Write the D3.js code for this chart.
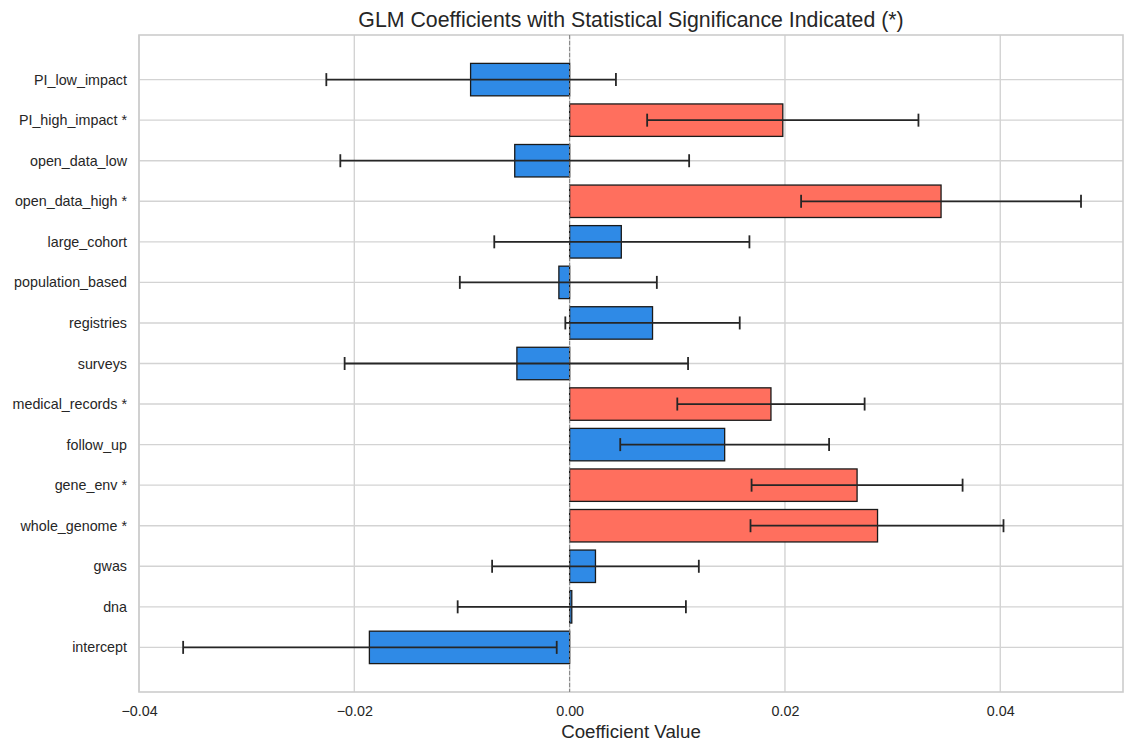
<!DOCTYPE html>
<html>
<head>
  <meta charset="utf-8">
  <script src="https://d3js.org/d3.v7.min.js"></script>
  <style>
    body { margin: 0; background: #fff; }
    text { font-family: "Liberation Sans", Arial, sans-serif; }
  </style>
</head>
<body>
  <div id="my_dataviz"></div>
  <script>
    // terms, top to bottom
    const terms = ["PI_low_impact", "PI_high_impact", "open_data_low", "open_data_high", "large_cohort",
      "population_based", "registries", "surveys", "medical_records", "follow_up", "gene_env",
      "whole_genome", "gwas", "dna", "intercept"];
    const coefs = [-0.0092, 0.0198, -0.0051, 0.0345, 0.0048, -0.0010, 0.0077, -0.0049, 0.0187,
      0.0144, 0.0267, 0.0286, 0.0024, 0.0002, -0.0186];
    const lower = [-0.0226, 0.0072, -0.0213, 0.0215, -0.0070, -0.0102, -0.0004, -0.0209, 0.0100,
      0.0047, 0.0169, 0.0168, -0.0072, -0.0104, -0.0359];
    const upper = [0.0043, 0.0324, 0.0111, 0.0475, 0.0167, 0.0081, 0.0158, 0.0110, 0.0274,
      0.0241, 0.0365, 0.0403, 0.0120, 0.0108, -0.0012];
    const significant = [false, true, false, true, false, false, false, false, true,
      false, true, true, false, false, false];
    const xTicks = [-0.04, -0.02, 0.00, 0.02, 0.04];

    const W = 1124, H = 744;
    const margin = { top: 35, right: 1, bottom: 52, left: 139 };
    const width = W - margin.left - margin.right,
      height = H - margin.top - margin.bottom;

    const svg = d3.select("#my_dataviz")
      .append("svg")
      .attr("width", W)
      .attr("height", H);

    const g = svg.append("g")
      .attr("transform", "translate(" + margin.left + "," + margin.top + ")");

    const data = terms.map(function (t, i) {
      return { term: t, label: significant[i] ? t + " *" : t, coef: coefs[i], lo: lower[i], hi: upper[i], sig: significant[i] };
    });

    const x = d3.scaleLinear()
      .domain([-0.04, 0.0514])
      .range([0, width]);

    const y = d3.scalePoint()
      .domain(terms)
      .range([0, height])
      .padding(1.1);
    const barH = y.step() * 0.8;

    // grid
    g.selectAll(".vgrid")
      .data(xTicks)
      .enter()
      .append("line")
      .attr("x1", function (d) { return x(d) })
      .attr("x2", function (d) { return x(d) })
      .attr("y1", 0)
      .attr("y2", height)
      .attr("stroke", "#d3d3d3")
      .attr("stroke-width", 1.4);

    g.selectAll(".hgrid")
      .data(terms)
      .enter()
      .append("line")
      .attr("x1", 0)
      .attr("x2", width)
      .attr("y1", function (d) { return y(d) })
      .attr("y2", function (d) { return y(d) })
      .attr("stroke", "#d3d3d3")
      .attr("stroke-width", 1.4);

    // frame
    g.append("rect")
      .attr("width", width)
      .attr("height", height)
      .attr("fill", "none")
      .attr("stroke", "#cccccc")
      .attr("stroke-width", 1.6);

    // bars
    g.selectAll(".bar")
      .data(data)
      .enter()
      .append("rect")
      .attr("x", function (d) { return x(Math.min(0, d.coef)) })
      .attr("y", function (d) { return y(d.term) - barH / 2 })
      .attr("width", function (d) { return Math.abs(x(d.coef) - x(0)) })
      .attr("height", barH)
      .attr("fill", function (d) { return d.sig ? "#ff6f5e" : "#2f8ae6" })
      .attr("stroke", "#1a1a1a")
      .attr("stroke-width", 1.3);

    // zero line
    g.append("line")
      .attr("x1", x(0))
      .attr("x2", x(0))
      .attr("y1", 0)
      .attr("y2", height)
      .attr("stroke", "#808080")
      .attr("stroke-width", 1)
      .attr("stroke-dasharray", "4,2");

    // error bars
    const err = g.selectAll(".err")
      .data(data)
      .enter()
      .append("g")
      .attr("stroke", "#262626")
      .attr("stroke-width", 1.8);
    err.append("line")
      .attr("x1", function (d) { return x(d.lo) })
      .attr("x2", function (d) { return x(d.hi) })
      .attr("y1", function (d) { return y(d.term) })
      .attr("y2", function (d) { return y(d.term) });
    err.append("line")
      .attr("x1", function (d) { return x(d.lo) })
      .attr("x2", function (d) { return x(d.lo) })
      .attr("y1", function (d) { return y(d.term) - 6.5 })
      .attr("y2", function (d) { return y(d.term) + 6.5 });
    err.append("line")
      .attr("x1", function (d) { return x(d.hi) })
      .attr("x2", function (d) { return x(d.hi) })
      .attr("y1", function (d) { return y(d.term) - 6.5 })
      .attr("y2", function (d) { return y(d.term) + 6.5 });

    // x axis
    const xAxis = g.append("g")
      .attr("transform", "translate(0," + height + ")")
      .call(d3.axisBottom(x).tickValues(xTicks).tickSize(0).tickPadding(14)
        .tickFormat(function (d) { return d3.format(".2f")(d).replace("-", "\u2212") }));
    xAxis.select(".domain").remove();
    xAxis.selectAll("text").attr("font-size", 14.3).attr("fill", "#262626")
      .style("font-family", "'Liberation Sans', Arial, sans-serif");

    // y axis
    const yAxis = g.append("g")
      .call(d3.axisLeft(y).tickSize(0).tickPadding(12)
        .tickFormat(function (d, i) { return data[i].label }));
    yAxis.select(".domain").remove();
    yAxis.selectAll("text").attr("font-size", 14.3).attr("fill", "#262626")
      .style("font-family", "'Liberation Sans', Arial, sans-serif");

    // labels
    svg.append("text")
      .attr("x", margin.left + width / 2)
      .attr("y", 738)
      .attr("text-anchor", "middle")
      .attr("font-size", 18.7)
      .attr("fill", "#262626")
      .text("Coefficient Value");

    svg.append("text")
      .attr("x", margin.left + width / 2)
      .attr("y", 27)
      .attr("text-anchor", "middle")
      .attr("font-size", 21.3)
      .attr("fill", "#262626")
      .text("GLM Coefficients with Statistical Significance Indicated (*)");
  </script>
</body>
</html>
